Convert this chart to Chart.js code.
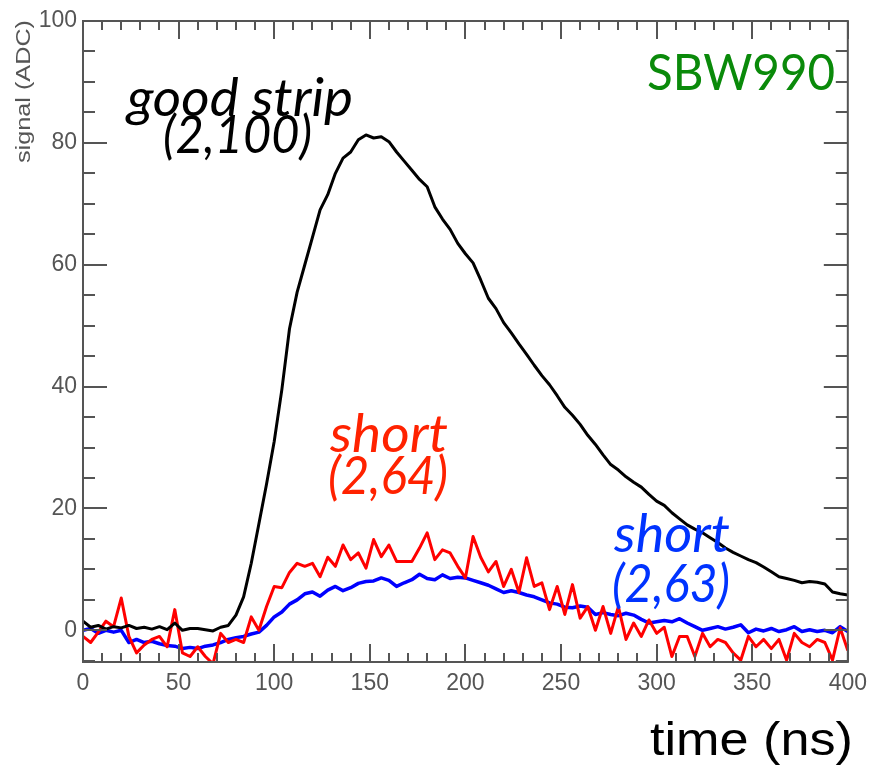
<!DOCTYPE html>
<html>
<head>
<meta charset="utf-8">
<script src="https://cdn.jsdelivr.net/npm/chart.js@4.4.1/dist/chart.umd.min.js"></script>
<style>
  html, body { margin: 0; padding: 0; background: #fff; }
  canvas { display: block; }
</style>
</head>
<body>
<canvas id="pulse" width="875" height="770"></canvas>
<script>
// ── sampled pulse shapes (ADC counts every 4 ns) ─────────────────────────
const TIME_NS = [
  0, 4, 8, 12, 16, 20, 24, 28, 32, 36, 40, 44, 48, 52, 56, 60, 64, 68, 72, 76,
  80, 84, 88, 92, 96, 100, 104, 108, 112, 116, 120, 124, 128, 132, 136, 140, 144, 148, 152, 156,
  160, 164, 168, 172, 176, 180, 184, 188, 192, 196, 200, 204, 208, 212, 216, 220, 224, 228, 232, 236,
  240, 244, 248, 252, 256, 260, 264, 268, 272, 276, 280, 284, 288, 292, 296, 300, 304, 308, 312, 316,
  320, 324, 328, 332, 336, 340, 344, 348, 352, 356, 360, 364, 368, 372, 376, 380, 384, 388, 392, 396, 400
];

const GOOD_STRIP_100 = [
  1.5, 0.5, 0.8, 0.2, 0.6, 0.4, 0.8, 0.3, 0.5, 0.2, 0.6, 0.1, 1.2, 0.0, 0.3, 0.3, 0.1, -0.1, 0.5, 0.8,
  2.5, 5.5, 11, 17.5, 24, 31, 39.5, 49.5, 55.5, 60, 64.5, 69, 71.5, 75, 77.5, 78.5, 80.5, 81.3, 80.8, 81,
  80.2, 78.5, 77, 75.5, 74, 72.8, 69.5, 67.5, 65.8, 63.5, 61.8, 60.3, 57.5, 54.5, 52.8, 50.5, 48.8, 47, 45.3, 43.5,
  41.8, 40.3, 38.5, 36.6, 35.3, 33.8, 32, 30.5, 28.8, 27.2, 26.3, 25.2, 24.3, 23.5, 22.3, 21.2, 20.5, 19.3, 18.3, 17.3,
  16.6, 16, 15.2, 14.4, 13.5, 12.8, 12.2, 11.6, 11.1, 10.4, 9.6, 8.8, 8.5, 8.2, 7.8, 8.0, 7.9, 7.6, 6.3, 6.0, 5.8
];

const SHORT_STRIP_64 = [
  -1, -2, -0.3, 1.5, 0.6, 5.3, -1, -3.7, -2.4, -1.5, -1, -2.7, 3.4, -3.7, -4.3, -2.7, -4.3, -5.5, -0.5, -2,
  -1.5, -2, 2.2, 0, 3.9, 7.2, 7.0, 9.5, 11, 10.5, 11, 8.8, 12, 10.5, 14, 11.6, 12.7, 10.2, 14.9, 12.1,
  14, 11.3, 11.3, 11.3, 13.5, 16, 11.6, 13.2, 12.7, 10.5, 8.6, 15.4, 12, 9.6, 11.3, 7.2, 10, 6.2, 11.9, 7.2,
  7.8, 3.4, 7.2, 2.6, 7.5, 2, 3.9, 0, 3.9, -0.5, 3.9, -1.5, 1.2, -1, 1.7, -0.5, 0.5, -4.3, -1, -1,
  -4.3, -0.5, -2.7, -1.5, -2, -3.7, -4.9, -1, -2.7, -1.5, -3, -1.5, -4.9, -0.5, -2, -2.7, -1.5, -2, -4.9, 0.4, -3.3
];

const SHORT_STRIP_63 = [
  0, 0.3, -0.5, 0, -0.3, 0, -2, -1.5, -2, -1.8, -2.2, -2.5, -2.6, -3.0, -2.8, -3.0, -2.6, -2.4, -2.0, -1.5,
  -1.2, -1.0, -0.6, -0.3, 0.8, 2.2, 3.0, 4.3, 5.0, 6.0, 6.3, 5.6, 6.6, 7.2, 6.5, 7.0, 7.7, 8.0, 8.1, 8.6,
  8.2, 7.2, 7.8, 8.3, 9.2, 8.5, 8.3, 9.1, 8.5, 8.7, 8.6, 8.2, 7.8, 7.4, 6.8, 6.2, 6.5, 6.2, 5.8, 5.5,
  5.0, 4.5, 4.3, 3.8, 3.7, 4.0, 3.8, 2.6, 2.9, 2.6, 2.4, 2.8, 2.5, 1.8, 1.2, 1.4, 1.6, 1.4, 1.9, 1.2,
  0.6, 0.0, 0.3, 0.6, 0.2, 0.5, 0.9, -0.4, 0.2, -0.1, 0.3, -0.2, 0.1, 0.6, -0.2, 0.1, -0.2, 0, -0.4, 0.6, -0.2
];

const X_TICKS = [0, 50, 100, 150, 200, 250, 300, 350, 400];
const Y_TICKS = [0, 20, 40, 60, 80, 100];

const AXIS_GREY = '#555';

// stretch a string horizontally so it spans the given width
function fitText(ctx, text, x, baseline, font, color, width) {
  ctx.save();
  ctx.font = font;
  ctx.fillStyle = color;
  ctx.textAlign = 'left';
  ctx.textBaseline = 'alphabetic';
  const w = ctx.measureText(text).width;
  ctx.translate(x, baseline);
  ctx.scale(width / w, 1);
  ctx.fillText(text, 0, 0);
  ctx.restore();
}

// ── frame with inward ticks on all four sides ───────────────────────────
const framePlugin = {
  id: 'frame',
  afterDraw(chart) {
    const { ctx, chartArea: a, scales: { x, y } } = chart;
    ctx.save();
    ctx.strokeStyle = AXIS_GREY;
    ctx.lineWidth = 2;
    ctx.strokeRect(a.left, a.top, a.right - a.left, a.bottom - a.top);

    ctx.beginPath();
    for (let v = x.min; v <= x.max; v += 10) {
      const px = Math.round(x.getPixelForValue(v));
      const len = v % 50 === 0 ? 18 : 9;
      ctx.moveTo(px, a.bottom); ctx.lineTo(px, a.bottom - len);
      ctx.moveTo(px, a.top); ctx.lineTo(px, a.top + len);
    }
    for (let v = -5; v <= 100; v += 5) {
      if (v < y.min) continue;
      const py = Math.round(y.getPixelForValue(v));
      const len = v % 20 === 0 ? 24 : 12;
      ctx.moveTo(a.left, py); ctx.lineTo(a.left + len, py);
      ctx.moveTo(a.right, py); ctx.lineTo(a.right - len, py);
    }
    ctx.stroke();
    ctx.restore();

    // axis titles
    ctx.save();
    ctx.translate(30, 163);
    ctx.rotate(-Math.PI / 2);
    fitText(ctx, 'signal (ADC)', 0, 0, '21px "Liberation Sans", Arial, sans-serif', AXIS_GREY, 143);
    ctx.restore();
    fitText(ctx, 'time (ns)', 650, 755, '46px "Liberation Sans", Arial, sans-serif', '#000', 203);

    // strip labels
    const it = 'italic 52px Lato, "Open Sans", sans-serif';
    fitText(ctx, 'good strip', 127, 116, it, '#000', 226);
    fitText(ctx, '(2,100)', 163, 153, it, '#000', 149);
    fitText(ctx, 'short', 330, 452, it, '#ff2200', 118);
    fitText(ctx, '(2,64)', 328, 494, it, '#ff2200', 120);
    fitText(ctx, 'short', 614, 552, it, '#0033ff', 116);
    fitText(ctx, '(2,63)', 612, 602, it, '#0033ff', 118);
    fitText(ctx, 'SBW990', 647, 90, '50px Lato, "Open Sans", sans-serif', '#0a8a0a', 188);
  }
};

const tickFont = { family: '"Liberation Sans", Arial, sans-serif', size: 23 };

new Chart(document.getElementById('pulse'), {
  type: 'line',
  data: {
    labels: TIME_NS,
    datasets: [
      { label: 'good strip (2,100)', data: GOOD_STRIP_100, borderColor: '#000', borderWidth: 3 },
      { label: 'short (2,64)', data: SHORT_STRIP_64, borderColor: '#ff0000', borderWidth: 3 },
      { label: 'short (2,63)', data: SHORT_STRIP_63, borderColor: '#0000ff', borderWidth: 3.5 }
    ]
  },
  options: {
    responsive: false,
    animation: false,
    layout: { padding: { top: 21, right: 8, left: 0, bottom: 0 } },
    elements: { point: { radius: 0 }, line: { tension: 0, borderJoinStyle: 'round' } },
    plugins: { legend: { display: false }, tooltip: { enabled: false } },
    scales: {
      x: {
        type: 'linear',
        min: 0,
        max: 400,
        afterBuildTicks: (s) => { s.ticks = X_TICKS.map((v) => ({ value: v })); },
        afterFit: (s) => { s.height = 108; },
        grid: { display: false, drawTicks: false },
        border: { display: false },
        ticks: { color: AXIS_GREY, font: tickFont, padding: 8, maxRotation: 0 }
      },
      y: {
        type: 'linear',
        min: -5.2,
        max: 100,
        afterBuildTicks: (s) => { s.ticks = Y_TICKS.map((v) => ({ value: v })); },
        afterFit: (s) => { s.width = 83; },
        grid: { display: false, drawTicks: false },
        border: { display: false },
        ticks: { color: AXIS_GREY, font: tickFont, padding: 6 }
      }
    }
  },
  plugins: [framePlugin]
});
</script>
</body>
</html>
